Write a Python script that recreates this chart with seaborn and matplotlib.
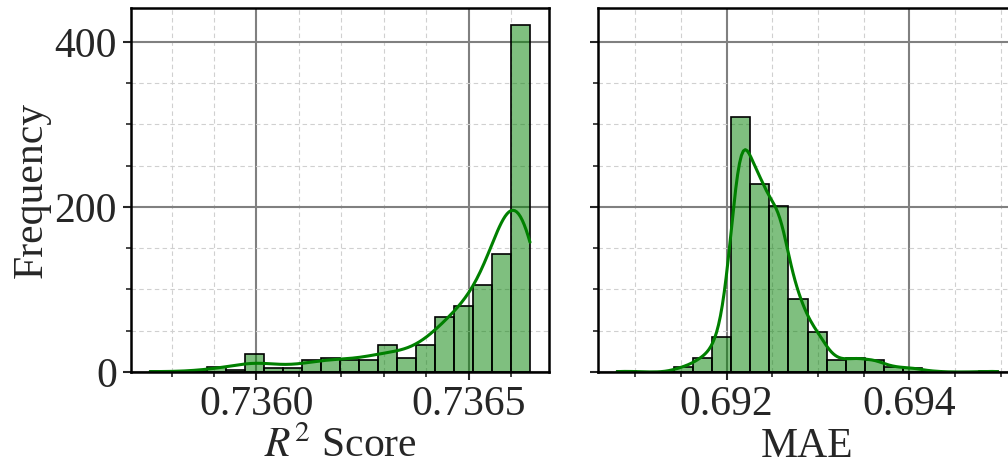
import numpy as np
import pandas as pd
import matplotlib
matplotlib.use("Agg")
import matplotlib.pyplot as plt
import seaborn as sns
from matplotlib.ticker import MultipleLocator

# ---- data (20 bins per panel) ----
r2_min, r2_max = 0.735749, 0.736645
r2_counts = [1, 0, 1, 6, 3, 22, 5, 5, 14, 17, 15, 14, 33, 17, 33, 67, 80, 105, 143, 421]
mae_min, mae_max = 0.690803, 0.694967
mae_counts = [1, 0, 0, 6, 17, 42, 309, 228, 201, 88, 48, 14, 17, 15, 6, 5, 1, 0, 0, 1]

r2_ticks = [0.7360, 0.7365]
mae_ticks = [0.692, 0.694]
r2_label = r"$R^2$ Score"
mae_label = "MAE"
y_label = "Frequency"

sns.set_style("ticks")
plt.rcParams["font.family"] = ["Liberation Serif", "DejaVu Serif"]
plt.rcParams["mathtext.fontset"] = "stix"

fig = plt.figure(figsize=(10.08, 4.68), dpi=100)
ax1 = fig.add_axes([131 / 1008, 96 / 468, 418 / 1008, 364 / 468])
ax2 = fig.add_axes([598 / 1008, 96 / 468, 419 / 1008, 364 / 468], sharey=ax1)


def draw(ax, vmin, vmax, counts, ticks, minor, xlabel, bw):
    nb = len(counts)
    edges = np.linspace(vmin, vmax, nb + 1)
    centers = (edges[:-1] + edges[1:]) / 2
    df = pd.DataFrame({"v": centers, "n": counts})
    sns.histplot(data=df, x="v", weights="n", bins=nb, binrange=(vmin, vmax), kde=True,
                 color="green", alpha=0.5, edgecolor="black", linewidth=1.2,
                 kde_kws={"cut": 3, "clip": (vmin, vmax), "bw_adjust": bw},
                 line_kws={"linewidth": 2.2}, ax=ax)
    ax.set_xticks(ticks)
    ax.xaxis.set_minor_locator(MultipleLocator(minor))
    ax.yaxis.set_minor_locator(MultipleLocator(50))
    ax.set_axisbelow(True)
    ax.grid(which="major", color="#808080", linewidth=1.5, linestyle="-")
    ax.grid(which="minor", color="#d0d0d0", linewidth=0.8, linestyle=(0, (4, 3)))
    ax.set_xlabel(xlabel, fontsize=30, labelpad=2)
    ax.tick_params(which="major", labelsize=30, length=6, width=1.5, direction="out", pad=4)
    ax.tick_params(which="minor", length=3.5, width=1.2, direction="out")
    for s in ax.spines.values():
        s.set_linewidth(1.8)
        s.set_color("black")


draw(ax1, r2_min, r2_max, r2_counts, r2_ticks, 0.0001, r2_label, 0.38)
draw(ax2, mae_min, mae_max, mae_counts, mae_ticks, 0.0005, mae_label, 0.36)
ax1.set_ylabel(y_label, fontsize=30, labelpad=3)
ax2.set_ylabel("")
ax1.set_yticks([0, 200, 400])
ax2.tick_params(axis="y", labelleft=False)
ax1.set_ylim(0, 441)

fig.savefig("out.png", dpi=100)
